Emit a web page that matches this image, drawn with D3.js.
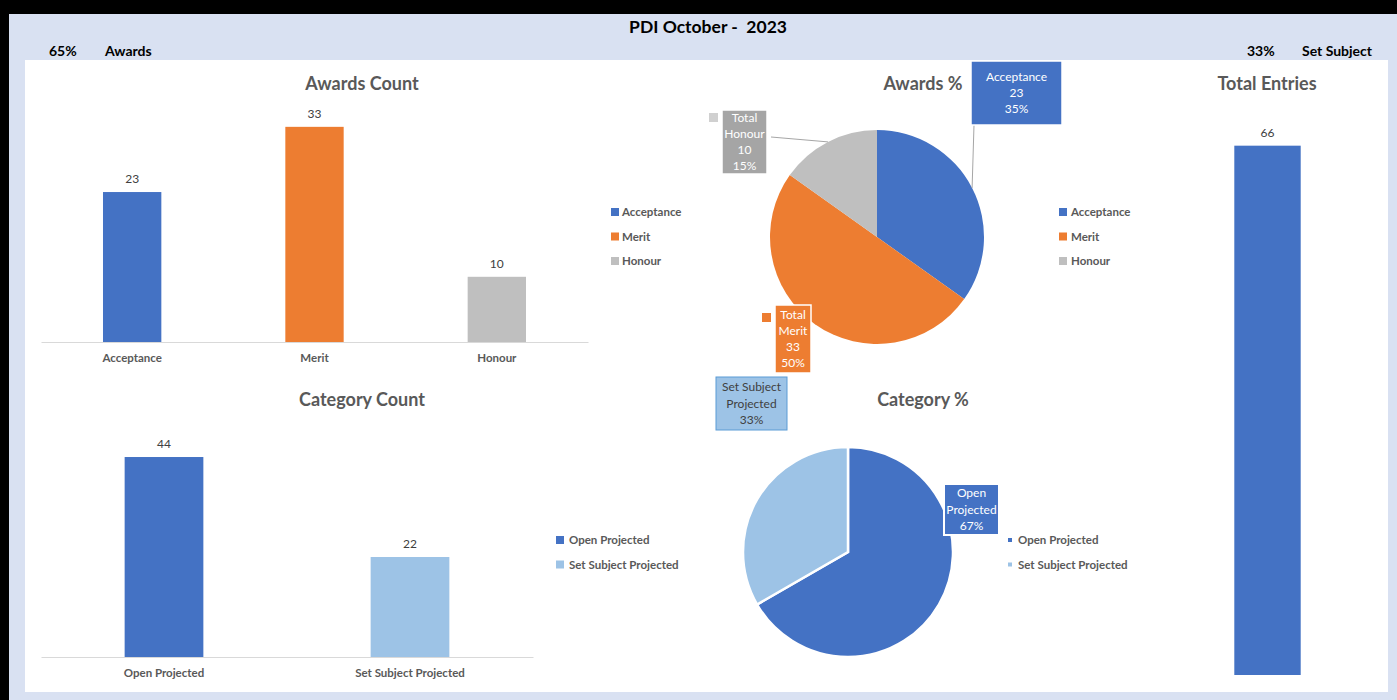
<!DOCTYPE html>
<html>
<head>
<meta charset="utf-8">
<script src="https://cdn.jsdelivr.net/npm/d3@7"></script>
<style>
  body { margin: 0; background: #000; }
  svg { display: block; font-family: Lato, "Open Sans", sans-serif; }
</style>
</head>
<body>
<svg id="chart" width="1397" height="700"></svg>
<script>
const awardNames = ["Acceptance", "Merit", "Honour"];
const awardCounts = [23, 33, 10];
const awardPercents = ["35%", "50%", "15%"];
const categoryNames = ["Open Projected", "Set Subject Projected"];
const categoryCounts = [44, 22];
const categoryPercents = ["67%", "33%"];
const totalEntries = [66];
const headerTitle = "PDI October -  2023";
const headerLeft = ["65%", "Awards"];
const headerRight = ["33%", "Set Subject"];

const awardColors = ["#4472c4", "#ed7d31", "#bfbfbf"];
const categoryColors = ["#4472c4", "#9dc3e6"];

const svg = d3.select("#chart");

// frame
svg.append("rect").attr("x", 9).attr("y", 14).attr("width", 1388).attr("height", 686).attr("fill", "#d9e1f2");
svg.append("rect").attr("x", 25).attr("y", 60).attr("width", 1363).attr("height", 632).attr("fill", "#fff");

// header
svg.append("text").attr("x", 708).attr("y", 33).attr("text-anchor", "middle")
    .style("font-size", "17.5px").style("font-weight", "bold").style("white-space", "pre").text(headerTitle);
[[headerLeft, 49, 105], [headerRight, 1247, 1302]].forEach(([t, x1, x2]) => {
    svg.append("text").attr("x", x1).attr("y", 56).style("font-size", "14px").style("font-weight", "bold").text(t[0]);
    svg.append("text").attr("x", x2).attr("y", 56).style("font-size", "14px").style("font-weight", "bold").text(t[1]);
});

function title(x, y, txt) {
    svg.append("text").attr("x", x).attr("y", y).attr("text-anchor", "middle")
        .style("font-size", "18px").style("font-weight", "bold").style("fill", "#595959").text(txt);
}

// bar chart helper
function barChart(opts) {
    const { names, values, colors, x0, x1, base, pxPerUnit, padding, axisLine } = opts;
    const x = d3.scaleBand().domain(names).range([x0, x1]).paddingInner(padding).paddingOuter(padding / 2);
    const maxV = d3.max(values);
    const y = d3.scaleLinear().domain([0, maxV]).range([base, base - maxV * pxPerUnit]);
    const g = svg.append("g");
    if (axisLine) {
        g.append("g").attr("transform", `translate(0,${base})`)
            .call(d3.axisBottom(x).tickSize(0).tickPadding(12))
            .call(a => a.select(".domain").attr("stroke", "#d9d9d9").attr("stroke-width", 1.2))
            .selectAll("text")
            .style("font-family", "Lato, sans-serif")
            .style("font-size", "11.5px").style("font-weight", "bold").style("fill", "#595959");
    }
    g.selectAll(".bar").data(values).enter().append("rect")
        .attr("x", (d, i) => x(names[i]))
        .attr("y", d => y(d))
        .attr("width", x.bandwidth())
        .attr("height", d => base - y(d))
        .attr("fill", (d, i) => colors[i]);
    g.selectAll(".val").data(values).enter().append("text")
        .attr("x", (d, i) => x(names[i]) + x.bandwidth() / 2)
        .attr("y", d => y(d) - 9)
        .attr("text-anchor", "middle")
        .style("font-size", "12px").style("fill", "#404040")
        .text(d => d);
}

title(362, 90, "Awards Count");
barChart({ names: awardNames, values: awardCounts, colors: awardColors, x0: 41, x1: 588, base: 342, pxPerUnit: 6.52, padding: 0.68, axisLine: true });

title(362, 406, "Category Count");
barChart({ names: categoryNames, values: categoryCounts, colors: categoryColors, x0: 41, x1: 533, base: 657, pxPerUnit: 4.545, padding: 0.68, axisLine: true });

title(1267, 90, "Total Entries");
barChart({ names: ["Total"], values: totalEntries, colors: ["#4472c4"], x0: 1226, x1: 1309, base: 675, pxPerUnit: 8.02, padding: 0.2, axisLine: false });

// legends
function legend(x, y, names, colors, size, gap, textDx) {
    const g = svg.append("g").attr("transform", `translate(${x},${y})`);
    names.forEach((n, i) => {
        g.append("rect").attr("x", -size / 2).attr("y", i * gap - size / 2).attr("width", size).attr("height", size).attr("fill", colors[i]);
        g.append("text").attr("x", textDx).attr("y", i * gap + 4)
            .style("font-size", "11.5px").style("font-weight", "bold").style("fill", "#595959").text(n);
    });
}

// pie helper
function pieChart(opts) {
    const { cx, cy, r, names, values, colors, stroke, labels } = opts;
    const pie = d3.pie().sort(null).value(d => d);
    const arcs = pie(values);
    const arc = d3.arc().innerRadius(0).outerRadius(r);
    const g = svg.append("g").attr("transform", `translate(${cx},${cy})`);
    g.selectAll("path").data(arcs).enter().append("path")
        .attr("d", arc).attr("fill", (d, i) => colors[i])
        .attr("stroke", stroke ? "#fff" : "none").attr("stroke-width", stroke ? 2.5 : 0);
    labels.forEach(lb => {
        const a = arcs[lb.index];
        const mid = (a.startAngle + a.endAngle) / 2;
        if (lb.leader) {
            g.append("line")
                .attr("x1", lb.leader[0]).attr("y1", lb.leader[1])
                .attr("x2", Math.sin(mid) * r).attr("y2", -Math.cos(mid) * r)
                .attr("stroke", "#a6a6a6").attr("stroke-width", 1);
        }
        g.append("rect").attr("x", lb.box[0]).attr("y", lb.box[1]).attr("width", lb.box[2]).attr("height", lb.box[3])
            .attr("fill", lb.fill).attr("stroke", lb.border).attr("stroke-width", lb.borderW || 1.5);
        if (lb.key) {
            g.append("rect").attr("x", lb.key[0]).attr("y", lb.key[1]).attr("width", 9).attr("height", 9).attr("fill", lb.keyFill);
        }
        const lines = lb.lines(a);
        const lh = 16.3;
        const top = lb.box[1] + lb.box[3] / 2 - (lines.length - 1) * lh / 2 + 4;
        lines.forEach((t, k) => {
            g.append("text").attr("x", lb.box[0] + lb.box[2] / 2).attr("y", top + k * lh)
                .attr("text-anchor", "middle").style("font-size", "12px").style("fill", lb.textFill).text(t);
        });
    });
}

title(923, 90, "Awards %");
legend(615, 212, awardNames, awardColors, 8, 24.5, 7);
legend(1063, 212, awardNames, awardColors, 8, 24.5, 8);
pieChart({
    cx: 877, cy: 237, r: 107, names: awardNames, values: awardCounts, colors: awardColors, stroke: false,
    labels: [
        { index: 0, box: [94, -176, 91, 64], fill: "#4472c4", border: "#fff", textFill: "#fff", leader: [97, -112],
          lines: a => [awardNames[0], awardCounts[0], awardPercents[0]] },
        { index: 2, box: [-155, -127, 45, 64], fill: "#a5a5a5", border: "#fff", textFill: "#fff", leader: [-106, -100],
          key: [-168, -124], keyFill: "#d0d0d0",
          lines: a => ["Total", awardNames[2], awardCounts[2], awardPercents[2]] },
        { index: 1, box: [-102, 68, 36, 68], fill: "#ed7d31", border: "#fff", textFill: "#fff",
          key: [-115, 76], keyFill: "#ed7d31",
          lines: a => ["Total", awardNames[1], awardCounts[1], awardPercents[1]] }
    ]
});

title(923, 406, "Category %");
legend(560, 540, categoryNames, categoryColors, 8, 24.5, 9);
legend(1010, 540, categoryNames, categoryColors, 4, 24.5, 8);
pieChart({
    cx: 848, cy: 552, r: 105, names: categoryNames, values: categoryCounts, colors: categoryColors, stroke: true,
    labels: [
        { index: 1, box: [-132, -175, 71, 53], fill: "#9dc3e6", border: "#5b9bd5", borderW: 1, textFill: "#404040",
          lines: a => ["Set Subject", "Projected", categoryPercents[1]] },
        { index: 0, box: [96, -68, 55, 51], fill: "#4472c4", border: "#fff", borderW: 2, textFill: "#fff",
          lines: a => ["Open", "Projected", categoryPercents[0]] }
    ]
});
</script>
</body>
</html>
